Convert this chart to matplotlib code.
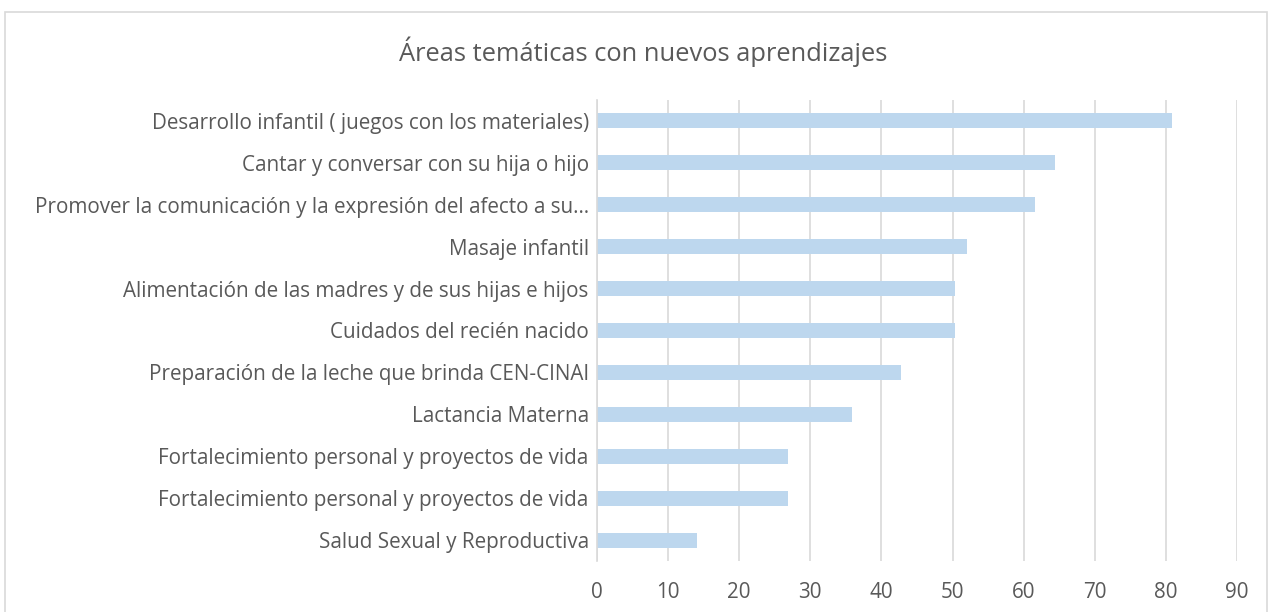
import numpy as np
import matplotlib.pyplot as plt
from matplotlib.patches import Rectangle

## Áreas temáticas con nuevos aprendizajes

categorias = [
    "Desarrollo infantil ( juegos con los materiales)",
    "Cantar y conversar con su hija o hijo",
    "Promover la comunicación y la expresión del afecto a su…",
    "Masaje infantil",
    "Alimentación de las madres y de sus hijas e hijos",
    "Cuidados del recién nacido",
    "Preparación de la leche que brinda CEN-CINAI",
    "Lactancia Materna",
    "Fortalecimiento personal y proyectos de vida",
    "Fortalecimiento personal y proyectos de vida",
    "Salud Sexual y Reproductiva",
]
valores = [80.8, 64.4, 61.6, 52.1, 50.4, 50.4, 42.8, 35.8, 26.8, 26.8, 14.1]
ticks_x = [0, 10, 20, 30, 40, 50, 60, 70, 80, 90]

plt.rcParams['font.family'] = ['Open Sans', 'DejaVu Sans']

fig = plt.figure(figsize=(12.73, 6.12), dpi=100)
ax = fig.add_axes([597 / 1273, 1 - 561 / 612, 640 / 1273, 461 / 612])

y = np.arange(len(categorias))
ax.barh(y, valores, height=0.36, color='#bdd7ee', zorder=2)

ax.set_ylim(len(categorias) - 0.5, -0.5)
ax.set_xlim(0, 90)
ax.set_yticks(y)
ax.set_yticklabels(categorias)
ax.set_xticks(ticks_x)

ax.grid(axis='x', color='#d9d9d9', linewidth=1.2, zorder=0)
for s in ['top', 'right', 'bottom']:
    ax.spines[s].set_visible(False)
ax.spines['left'].set_color('#d9d9d9')
ax.spines['left'].set_linewidth(1.2)
ax.tick_params(axis='y', length=0, pad=6, labelsize=14.9, labelcolor='#595959')
ax.tick_params(axis='x', length=0, pad=15, labelsize=14.9, labelcolor='#595959')

fig.text(643 / 1273, 1 - 52 / 612, "Áreas temáticas con nuevos aprendizajes",
         ha='center', va='center', fontsize=18.4, color='#595959')

# borde del área del gráfico
fig.patches.append(Rectangle((5 / 1273, -0.1), 1262 / 1273, 1.1 - 12 / 612,
                             transform=fig.transFigure, fill=False,
                             edgecolor='#d9d9d9', linewidth=1.2))

fig.savefig("out.png", dpi=100)
